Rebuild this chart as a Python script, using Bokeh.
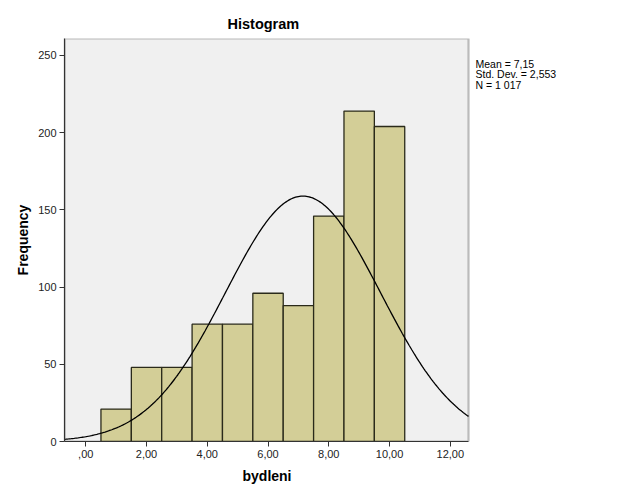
import numpy as np
from bokeh.plotting import figure
from bokeh.models import FixedTicker, Label, BoxAnnotation, Title
from bokeh.embed import file_html
from bokeh.resources import INLINE

# Data
bin_centers = [1, 2, 3, 4, 5, 6, 7, 8, 9, 10]
frequencies = [21, 48, 48, 76, 76, 96, 88, 146, 214, 204]
bin_width = 1.0
mean_val = 7.15
std_dev = 2.553
n_total = 1017
x_ticks = [0, 2, 4, 6, 8, 10, 12]
x_tick_labels = [",00", "2,00", "4,00", "6,00", "8,00", "10,00", "12,00"]
y_ticks = [0, 50, 100, 150, 200, 250]
stats_lines = ["Mean = 7,15", "Std. Dev. = 2,553", "N = 1 017"]

FONT = "Liberation Sans"
X0, X1 = -0.7, 12.6          # visible plot-area range
Y0, Y1 = 0, 261
X_EXT = 17.8                 # frame extended to the right so the side text can be drawn

p = figure(width=626, height=501, output_backend="svg", toolbar_location=None,
           x_range=(X0, X_EXT), y_range=(Y0, Y1),
           min_border_left=64, min_border_right=0, min_border_top=38, min_border_bottom=60)
p.background_fill_color = "white"
p.border_fill_color = "white"
p.outline_line_color = None
p.grid.visible = False

p.add_layout(BoxAnnotation(left=X0, right=X1, bottom=Y0, top=Y1, level="underlay",
                           fill_color="#f0f0f0", fill_alpha=1.0,
                           line_color="#333333", line_width=2.2))

p.vbar(x=bin_centers, top=frequencies, width=bin_width, bottom=0,
       fill_color="#d3ce97", line_color="#2a2a1a", line_width=1.3)

xs = np.linspace(X0, X1, 300)
ys = n_total * bin_width / (std_dev * np.sqrt(2 * np.pi)) * np.exp(-0.5 * ((xs - mean_val) / std_dev) ** 2)
p.line(xs, ys, line_color="black", line_width=1.3)

p.title.text = "Histogram"
p.title.align = "left"
p.title.offset = 163
p.title.text_font = FONT
p.title.text_font_size = "14.5px"
p.title.text_font_style = "bold"
p.title.text_color = "black"
p.title.standoff = 14

for ax in (p.xaxis[0], p.yaxis[0]):
    ax.major_label_text_font = FONT
    ax.major_label_text_font_size = "11px"
    ax.major_label_text_color = "#222222"
    ax.axis_label_text_font = FONT
    ax.axis_label_text_font_size = "14px"
    ax.axis_label_text_font_style = "bold"
    ax.axis_label_text_color = "black"
    ax.minor_tick_line_color = None
    ax.major_tick_in = 0
    ax.major_tick_out = 5
    ax.major_tick_line_color = "#333333"
    ax.axis_line_color = "#333333"
    ax.axis_line_width = 1.2

p.xaxis.ticker = FixedTicker(ticks=x_ticks)
p.xaxis.bounds = (X0, X1)
p.xaxis.major_label_overrides = {t: l for t, l in zip(x_ticks, x_tick_labels)}
p.xaxis.major_label_standoff = 3

# x-axis title placed under the visible plot area (the frame extends further right)
p.add_layout(Title(text="bydleni", align="left", offset=178, standoff=10,
                   text_font=FONT, text_font_size="14px", text_font_style="bold",
                   text_color="black"), "below")

p.yaxis.ticker = FixedTicker(ticks=y_ticks)
p.yaxis.axis_label = "Frequency"
p.yaxis.major_label_standoff = 3
p.yaxis.axis_label_standoff = 4

# screen units are relative to the frame's bottom-left corner
for i, line in enumerate(stats_lines):
    p.add_layout(Label(x=411, y=378 - i * 10.5, x_units="screen", y_units="screen",
                       text=line, text_font=FONT, text_font_size="10.5px", text_color="black",
                       text_baseline="middle"))

open("out.html", "w").write(file_html(p, INLINE))
